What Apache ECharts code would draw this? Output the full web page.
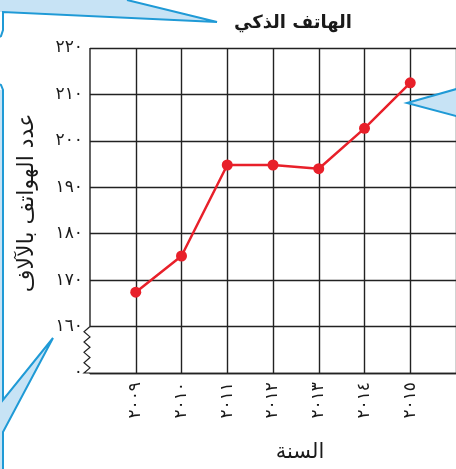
<!DOCTYPE html>
<html><head><meta charset="utf-8">
<script src="https://cdn.jsdelivr.net/npm/echarts@6/dist/echarts.min.js"></script>
<style>html,body{margin:0;padding:0;background:#fff}#c{width:456px;height:469px}</style>
</head><body><div id="c"></div>
<script>
const years = ['٢٠٠٩','٢٠١٠','٢٠١١','٢٠١٢','٢٠١٣','٢٠١٤','٢٠١٥'];
const phones = [167.4, 175.2, 194.8, 194.8, 194.0, 202.7, 212.5];
const yTickLabels = ['٠','١٦٠','١٧٠','١٨٠','١٩٠','٢٠٠','٢١٠','٢٢٠'];
const titleText = 'الهاتف الذكي';
const yName = 'عدد الهواتف بالآلاف';
const xName = 'السنة';

const LINE = '#222222';
const BLUE = '#1f9ad6';
const FILL = '#c7e3f5';
const chart = echarts.init(document.getElementById('c'));
chart.setOption({
  animation: false,
  title: { text: titleText, left: 288, top: 9, textAlign: 'center',
    textStyle: { fontFamily: 'DejaVu Sans', fontSize: 18, fontWeight: 'bold', color: '#1a1a1a' } },
  grid: { left: 90, top: 48, width: 372, height: 325 },
  xAxis: {
    type: 'category', boundaryGap: false,
    data: [''].concat(years).concat(['']),
    axisLine: { show: true, lineStyle: { color: LINE, width: 1.4 } },
    axisTick: { show: false },
    splitLine: { show: true, interval: (i) => i !== 0, lineStyle: { color: LINE, width: 1.4 } },
    axisLabel: { rotate: 90, margin: 9, fontSize: 17, color: '#1a1a1a', fontFamily: 'DejaVu Sans', interval: 0 },
    name: xName, nameLocation: 'middle', nameGap: 69,
    nameTextStyle: { fontSize: 21, color: '#1a1a1a', fontFamily: 'DejaVu Sans', padding: [0, 0, 0, 54] }
  },
  yAxis: {
    type: 'value', min: 150, max: 220, interval: 10,
    axisLine: { show: false }, axisTick: { show: false },
    splitLine: { show: true, lineStyle: { color: LINE, width: 1.4 } },
    axisLabel: { margin: 7, fontSize: 17, color: '#1a1a1a', fontFamily: 'DejaVu Sans',
      formatter: (v) => yTickLabels[Math.round((v - 150) / 10)] },
    name: yName, nameLocation: 'middle', nameGap: 52, nameRotate: 90,
    nameTextStyle: { fontSize: 22, color: '#1a1a1a', fontFamily: 'DejaVu Sans', padding: [0, 0, 0, 15] }
  },
  series: [{
    type: 'line', data: [null].concat(phones).concat([null]),
    symbol: 'circle', symbolSize: 11,
    lineStyle: { color: '#e8202a', width: 2.5 },
    itemStyle: { color: '#e8202a' }
  }]
});

const p220 = chart.convertToPixel({ gridIndex: 0 }, [0, 220]);
const p160 = chart.convertToPixel({ gridIndex: 0 }, [0, 160]);
const p150 = chart.convertToPixel({ gridIndex: 0 }, [0, 150]);
const x0 = p220[0];
const zig = [];
const steps = 9;
for (let i = 0; i <= steps; i++) {
  zig.push([i % 2 === 0 ? x0 : x0 - 6, p160[1] + (p150[1] - p160[1]) * i / steps]);
}
zig.push([x0, p150[1]]);

chart.setOption({
  graphic: [
    { type: 'polyline', shape: { points: [[x0, p220[1]], [x0, p160[1]]] }, style: { stroke: LINE, lineWidth: 1.4 } },
    { type: 'polyline', shape: { points: zig }, style: { stroke: LINE, lineWidth: 1.2, fill: null } },
    { type: 'polygon', shape: { points: [[0, 0], [127, 0], [217, 22], [3, 12], [0, 12]] }, style: { fill: FILL, stroke: null } },
    { type: 'polyline', shape: { points: [[127, 0], [217, 22], [3, 12], [3, 30], [1, 36], [-2, 38]] }, style: { stroke: BLUE, lineWidth: 2, fill: null } },
    { type: 'polygon', shape: { points: [[-5, 90], [3, 90], [3, 400], [53, 338], [3, 432], [3, 470], [-5, 470]] }, style: { fill: FILL, stroke: null } },
    { type: 'polyline', shape: { points: [[-3, 83], [1, 85], [3, 90], [3, 400], [53, 338], [3, 432], [3, 470]] }, style: { stroke: BLUE, lineWidth: 2, fill: null } },
    { type: 'polygon', shape: { points: [[460, 88], [407, 103], [460, 117]] }, style: { fill: FILL, stroke: BLUE, lineWidth: 2 } }
  ]
});
</script></body></html>
